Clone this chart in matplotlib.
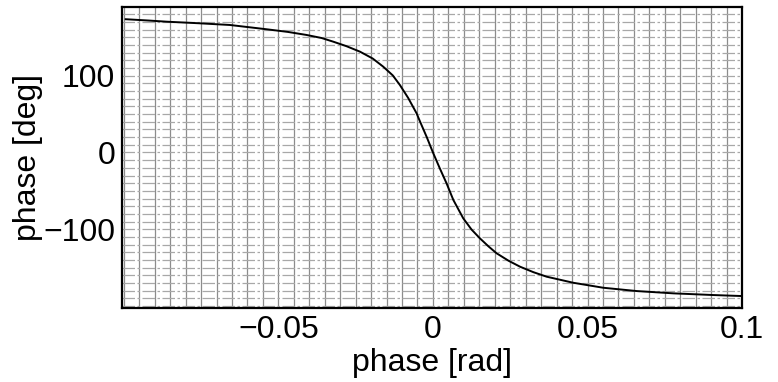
import numpy as np
import matplotlib
matplotlib.use("Agg")
import matplotlib.pyplot as plt
from matplotlib.ticker import MultipleLocator

# -------------------------
# DATA
# -------------------------

phase_rad = [-0.0994, -0.0920, -0.0862, -0.0760, -0.0657, -0.0538, -0.0470,
             -0.0409, -0.0360, -0.0323, -0.0280, -0.0236, -0.0195, -0.0161,
             -0.0130, -0.0107, -0.0080, -0.0053, -0.0044, -0.0020, 0.0,
             0.0022, 0.0044, 0.0066, 0.0098, 0.0125, 0.0152, 0.0180, 0.0206,
             0.0245, 0.0282, 0.0325, 0.0368, 0.0454, 0.0551, 0.0659, 0.0778,
             0.0907, 0.0999]
phase_deg = [173.7, 172.0, 170.5, 168.5, 166.2, 160.6, 157.2,
             153.2, 149.2, 144.5, 138.6, 131.4, 122.5, 111.9,
             100.5, 88.0, 71.0, 51.1, 42.4, 20.0, 0.0,
             -20.5, -40.2, -61.9, -85.8, -100.5, -111.9, -122.5, -131.4,
             -141.2, -148.9, -156.0, -161.9, -169.8, -176.3, -180.6, -183.6,
             -185.8, -187.1]

xticks = [-0.05, 0, 0.05, 0.1]
xticklabels = ["\u22120.05", "0", "0.05", "0.1"]
yticks = [-100, 0, 100]
yticklabels = ["\u2212100", "0", "100"]

# -------------------------
# PLOT
# -------------------------

plt.rcParams['font.family'] = ['Liberation Sans', 'DejaVu Sans']

fig = plt.figure(figsize=(7.78, 3.82), dpi=100)
ax = fig.add_axes([0.1568, 0.1937, 0.797, 0.7873])

ax.plot(phase_rad, phase_deg, '-', color='black', lw=1.4, zorder=3)

ax.set_xlim(-0.1006, 0.1)
ax.set_ylim(-202.7, 189.3)

ax.set_xticks(xticks)
ax.set_xticklabels(xticklabels)
ax.set_yticks(yticks)
ax.set_yticklabels(yticklabels)
ax.xaxis.set_minor_locator(MultipleLocator(0.005))
ax.yaxis.set_minor_locator(MultipleLocator(10))

# dense graph-paper grid
ax.grid(True, which='both', axis='x', color='#8c8c8c', lw=0.9, ls='-')
ax.grid(True, which='both', axis='y', color='#a8a8a8', lw=0.9, ls=(0, (10, 2, 2, 2)))

ax.tick_params(which='both', length=0, labelsize=23, pad=5)
for s in ax.spines.values():
    s.set_linewidth(1.6)

ax.set_xlabel("phase [rad]", fontsize=23, labelpad=2)
ax.set_ylabel("phase [deg]", fontsize=23, labelpad=0)

fig.savefig("out.png", dpi=100)
